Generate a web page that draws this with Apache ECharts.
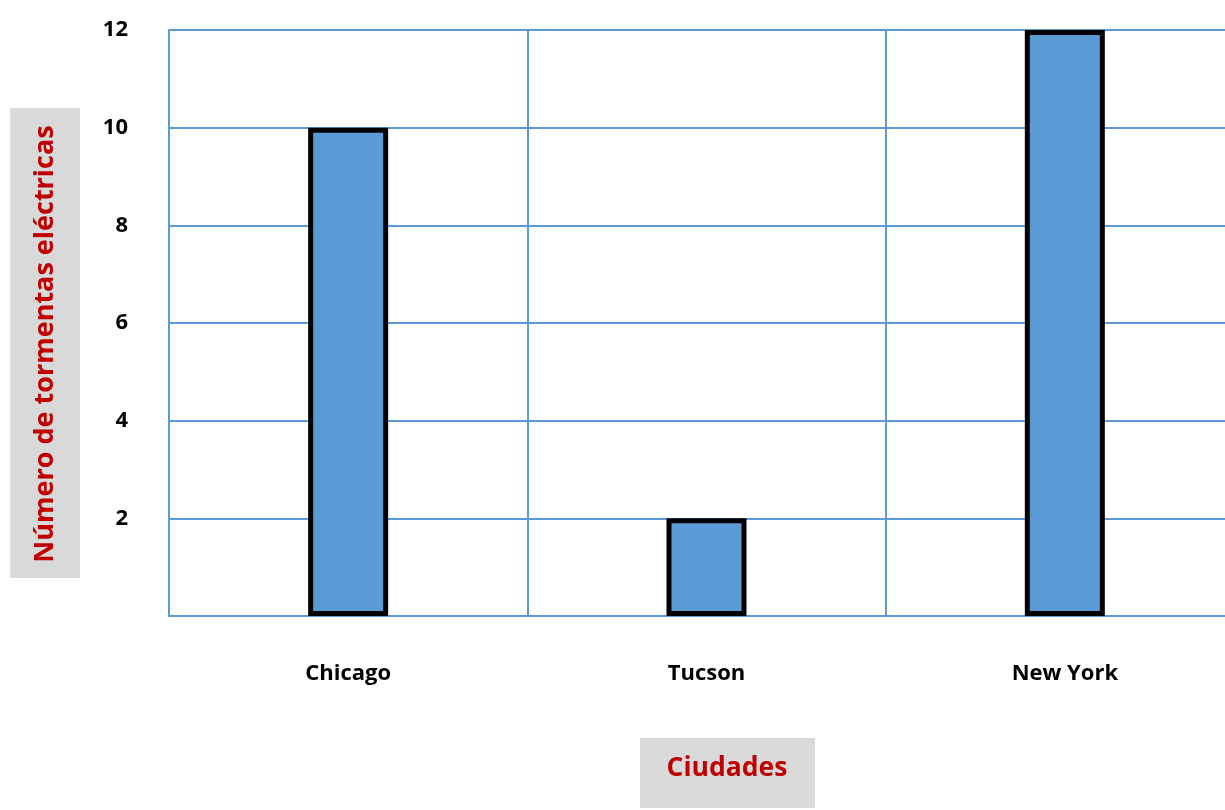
<!DOCTYPE html>
<html>
<head>
<meta charset="utf-8">
<script src="https://cdn.jsdelivr.net/npm/echarts@6/dist/echarts.min.js"></script>
<style>html,body{margin:0;padding:0;background:#fff;}#c{width:1225px;height:810px;}</style>
</head>
<body>
<div id="c"></div>
<script>
var categories = ['Chicago', 'Tucson', 'New York'];
var values = [10, 2, 12];
var yTitle = 'Número de tormentas eléctricas';
var xTitle = 'Ciudades';

var chart = echarts.init(document.getElementById('c'));
var font = '"Open Sans", "Noto Sans", sans-serif';
chart.setOption({
  animation: false,
  backgroundColor: '#fff',
  grid: { left: 169, width: 1075, top: 30, bottom: 194, outerBoundsMode: 'none', containLabel: false },
  xAxis: {
    type: 'category',
    data: categories,
    boundaryGap: true,
    axisLine: { show: true, lineStyle: { color: '#5b9bd5', width: 2 } },
    axisTick: { show: false },
    splitLine: { show: true, lineStyle: { color: '#5b9bd5', width: 2 } },
    axisLabel: { margin: 47, color: '#000', fontWeight: 'bold', fontSize: 22, fontFamily: font }
  },
  yAxis: {
    type: 'value',
    min: 0, max: 12, interval: 2,
    axisLine: { show: true, lineStyle: { color: '#5b9bd5', width: 2 } },
    axisTick: { show: false },
    splitLine: { show: true, lineStyle: { color: '#5b9bd5', width: 2 } },
    axisLabel: {
      margin: 41, color: '#000', fontWeight: 'bold', fontSize: 22, fontFamily: font,
      formatter: function (v) { return v === 0 ? '' : v; }
    }
  },
  series: [{
    type: 'bar',
    data: values,
    barWidth: 80,
    itemStyle: { color: '#5b9bd5', borderColor: '#000', borderWidth: 5 }
  }],
  graphic: [
    { type: 'rect', shape: { x: 10, y: 108, width: 70, height: 470 }, style: { fill: '#d9d9d9' } },
    { type: 'text', x: 45, y: 344, rotation: Math.PI / 2,
      style: { text: yTitle, fill: '#c00000', font: 'bold 27px ' + font, align: 'center', verticalAlign: 'middle' } },
    { type: 'rect', shape: { x: 640, y: 738, width: 175, height: 70 }, style: { fill: '#d9d9d9' } },
    { type: 'text', x: 727, y: 768,
      style: { text: xTitle, fill: '#c00000', font: 'bold 26.5px ' + font, align: 'center', verticalAlign: 'middle' } }
  ]
});
</script>
</body>
</html>
